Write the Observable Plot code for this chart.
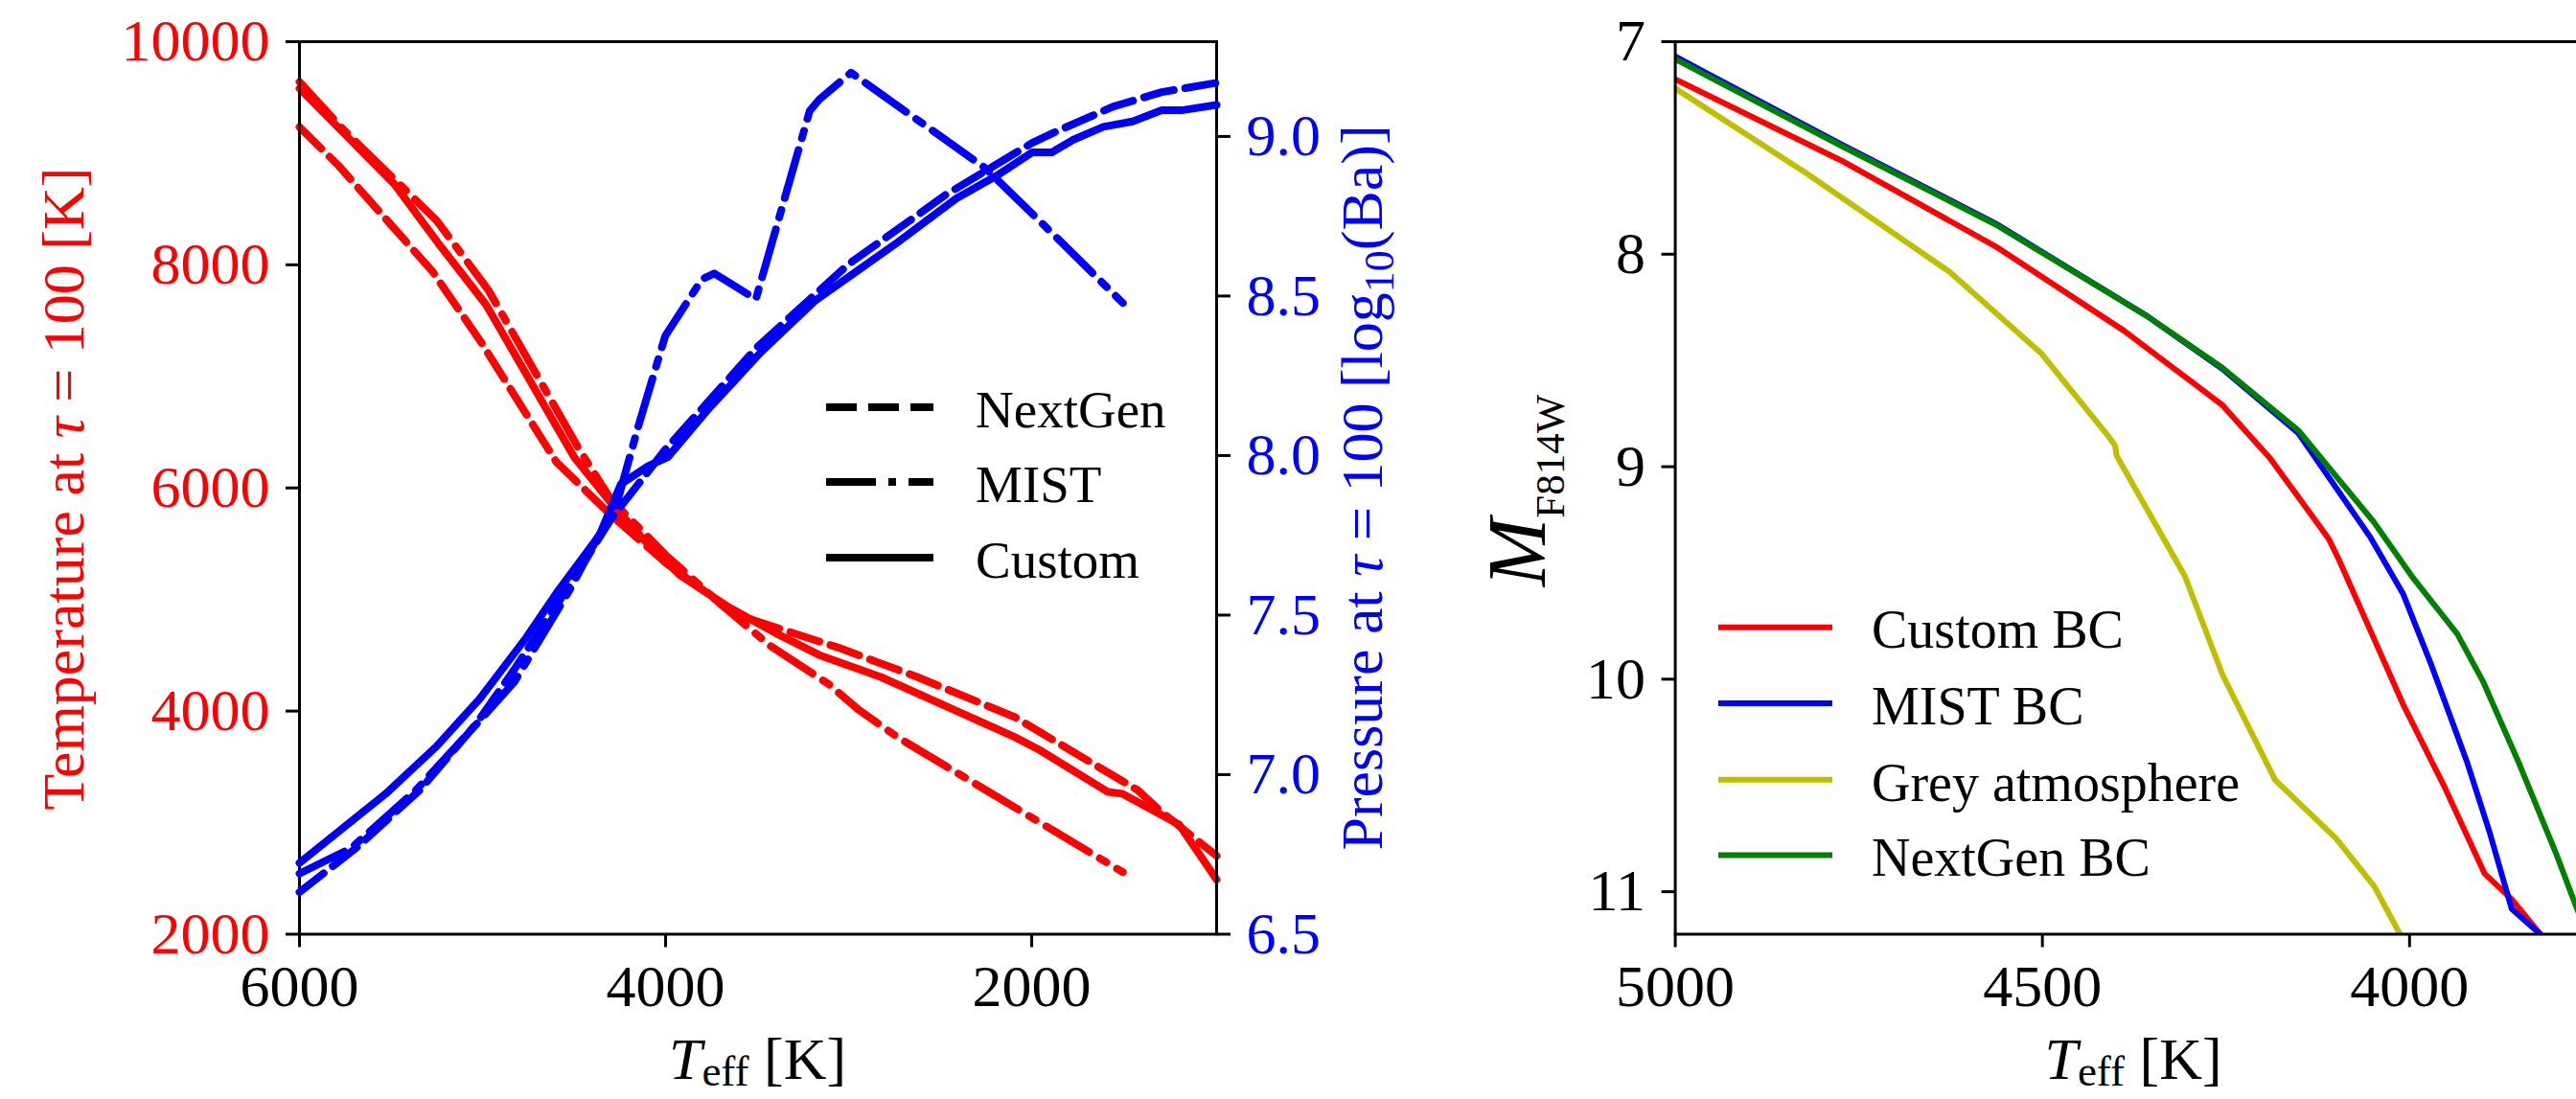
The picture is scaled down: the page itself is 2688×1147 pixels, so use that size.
<!DOCTYPE html>
<html><head><meta charset="utf-8">
<script src="https://cdn.jsdelivr.net/npm/d3@7"></script>
<script src="https://cdn.jsdelivr.net/npm/@observablehq/plot@0.6"></script>
<style>
html,body{margin:0;padding:0;background:#fff;overflow:hidden;width:2688px;height:1147px;}
#wrap{position:relative;width:2688px;height:1147px;overflow:hidden;background:#fff;}
#wrap svg{position:absolute;top:0;}
text{white-space:pre;}
</style></head><body><div id="wrap"></div>
<script>
// ---------------- LEFT PANEL DATA ----------------
// Temperature at tau = 100 [K] (left axis)
const teffCustomTemp = [6000,5483,5237,4980,4500,4300,4100,3922,3654,3400,3160,2825,2091,1957,1583,1504,1195,990];
const tempCustom     = [9581,8726,8183,7641,6277,5870,5500,5220,4930,4700,4502,4306,3766,3651,3275,3259,2983,2490];
const teffNextGenTemp = [6000,5787,5272,5004,4596,4300,4000,3614,3053,2626,2091,1824,1422,1290,990];
const tempNextGen     = [9235,8890,7937,7296,6230,5760,5330,4864,4567,4306,3945,3683,3292,3095,2703];
const teffMistTemp = [6000,5764,5251,4968,4477,4300,4000,3700,3427,3108,2945,2733,1502];
const tempMist     = [9640,9218,8398,7773,6359,5900,5400,4960,4583,4240,4011,3766,2556];
// Pressure at tau = 100 [log10(Ba)] (right axis)
const teffCustomP = [6000,5529,5251,5015,4758,4596,4360,4245,4095,3988,3775,3481,3186,2945,2733,2411,2197,1998,1890,1772,1609,1449,1290,1182,990];
const presCustom  = [6.723,6.94,7.089,7.238,7.432,7.569,7.752,7.91,7.967,7.995,8.14,8.323,8.484,8.582,8.668,8.806,8.875,8.95,8.95,8.99,9.03,9.047,9.082,9.082,9.099];
const teffNextGenP = [6000,5693,5342,5038,4827,4500,4300,4000,3500,3000,2470,2000,1876,1557,1290,990];
const presNextGen  = [6.632,6.769,6.952,7.157,7.329,7.615,7.80,8.02,8.34,8.60,8.817,8.979,9.013,9.093,9.139,9.168];
const teffMistP = [6000,5717,5366,5062,4827,4523,4384,4266,4150,4002,3801,3734,3507,3213,3160,2987,2252,1876,1502];
const presMist  = [6.69,6.77,6.95,7.14,7.29,7.58,7.73,7.85,8.09,8.375,8.553,8.571,8.49,9.08,9.116,9.20,8.90,8.69,8.478];
const leftXTicks = [6000,4000,2000];
const tempTicks = [2000,4000,6000,8000,10000];
const presTicks = [6.5,7.0,7.5,8.0,8.5,9.0];
const styleNames = ["NextGen","MIST","Custom"];

// ---------------- RIGHT PANEL DATA ----------------
const teffCustomBC = [5000,4770,4564,4389,4320,4255,4190,4131,4110,4096,4049,4009,3952,3898,3861,3822];
const magCustomBC  = [7.177,7.566,7.963,8.36,8.54,8.71,8.96,9.24,9.34,9.439,9.805,10.117,10.51,10.914,11.035,11.2];
const teffMistBC = [5000,4770,4564,4358,4255,4152,4053,4009,3970,3922,3891,3861,3822];
const magMistBC  = [7.07,7.49,7.855,8.29,8.54,8.84,9.334,9.597,9.936,10.387,10.72,11.08,11.2];
const teffGreyBC = [5000,4822,4626,4502,4409,4401,4399,4306,4255,4183,4100,4048,4013];
const magGreyBC  = [7.22,7.618,8.084,8.465,8.862,8.90,8.948,9.515,9.977,10.475,10.75,10.975,11.2];
const teffNextGenBC = [5000,4770,4564,4358,4255,4152,4049,3997,3935,3900,3852,3800,3772,3760];
const magNextGenBC  = [7.082,7.497,7.86,8.29,8.534,8.827,9.259,9.515,9.787,10.01,10.387,10.824,11.08,11.18];
const rightXTicks = [5000,4500,4000];
const magTicks = [7,8,9,10,11];
const bcNames = ["Custom BC","MIST BC","Grey atmosphere","NextGen BC"];
const bcColors = ["#ff0000","#0000ff","#bfbf00","#008000"];

// ---------------- HELPERS ----------------
const FONT = "'Liberation Serif','Times New Roman',Times,serif";
const rows = (xs, ys) => xs.map((t, i) => ({teff: t, v: ys[i]}));
const DASH = "32,12", DASHDOT = "52,13,8,13";
const wrap = document.getElementById("wrap");
const axisOpts = {tickSize: 14, tickPadding: 17, strokeWidth: 3, fontSize: 62, fontFamily: FONT, stroke: "black", label: null};

function rich(svg, {x, y, rotate = 0, fill = "black", anchor = "middle", parts}) {
  const t = d3.select(svg).append("text")
    .attr("transform", `translate(${x},${y}) rotate(${rotate})`)
    .attr("text-anchor", anchor).attr("fill", fill).attr("font-family", FONT);
  parts.forEach(p => {
    const s = t.append("tspan").text(p.t).attr("font-size", p.size);
    if (p.italic) s.attr("font-style", "italic");
    if (p.dy) s.attr("dy", p.dy);
  });
}
function fixFont(svg) {
  d3.select(svg).attr("font-family", FONT).style("font-family", FONT);
  d3.select(svg).selectAll("text").attr("font-family", FONT).style("font-family", FONT);
}

// ---------------- LEFT PANEL ----------------
const LW = 1440, H = 1147;
const leftGeom = {width: LW, height: H, marginLeft: 312, marginRight: LW - 1269, marginTop: 43, marginBottom: H - 974.5};
const leftX = {domain: [6000, 990]};
const pstyle = {fontFamily: FONT, fontSize: "62px", background: "transparent", overflow: "visible"};

const tempPlot = Plot.plot({
  ...leftGeom, style: pstyle,
  x: leftX,
  y: {domain: [2000, 10000]},
  marks: [
    Plot.line(rows(teffNextGenTemp, tempNextGen), {x: "teff", y: "v", stroke: "#ff0000", strokeWidth: 8, strokeDasharray: DASH, strokeLinejoin: "round"}),
    Plot.line(rows(teffMistTemp, tempMist), {x: "teff", y: "v", stroke: "#ff0000", strokeWidth: 8, strokeDasharray: DASHDOT, strokeLinejoin: "round"}),
    Plot.line(rows(teffCustomTemp, tempCustom), {x: "teff", y: "v", stroke: "#ff0000", strokeWidth: 8, strokeLinejoin: "round"}),
    Plot.frame({stroke: "black", strokeWidth: 3}),
    Plot.axisX({...axisOpts, ticks: leftXTicks, tickFormat: d => String(d), fill: "black"}),
    Plot.axisY({...axisOpts, ticks: tempTicks, tickFormat: d => String(d), fill: "#ff0000"})
  ]
});
tempPlot.style.left = "0px";
fixFont(tempPlot);
wrap.appendChild(tempPlot);

const presPlot = Plot.plot({
  ...leftGeom, style: pstyle,
  x: {...leftX, axis: null},
  y: {domain: [6.5, 9.297]},
  marks: [
    Plot.line(rows(teffNextGenP, presNextGen), {x: "teff", y: "v", stroke: "#0000ff", strokeWidth: 8, strokeDasharray: DASH, strokeLinejoin: "round"}),
    Plot.line(rows(teffMistP, presMist), {x: "teff", y: "v", stroke: "#0000ff", strokeWidth: 8, strokeDasharray: DASHDOT, strokeLinejoin: "round"}),
    Plot.line(rows(teffCustomP, presCustom), {x: "teff", y: "v", stroke: "#0000ff", strokeWidth: 8, strokeLinejoin: "round"}),
    Plot.axisY({...axisOpts, anchor: "right", ticks: presTicks, tickFormat: d3.format(".1f"), fill: "#0000ff"})
  ]
});
presPlot.style.left = "0px";
fixFont(presPlot);
wrap.appendChild(presPlot);

// left panel legend (line styles)
{
  const g = d3.select(presPlot).append("g").attr("text-anchor", "start");
  const dashes = [DASH, DASHDOT, null];
  const lineY = [425, 503, 582], baseY = [446, 524, 603];
  styleNames.forEach((name, i) => {
    const l = g.append("line").attr("x1", 862).attr("x2", 974).attr("y1", lineY[i]).attr("y2", lineY[i])
      .attr("stroke", "black").attr("stroke-width", 8);
    if (dashes[i]) l.attr("stroke-dasharray", dashes[i]);
    g.append("text").attr("x", 1018).attr("y", baseY[i]).attr("text-anchor", "start")
      .attr("font-family", FONT).attr("font-size", 55).attr("fill", "black").text(name);
  });
}
// axis titles left panel
rich(presPlot, {x: 87, y: 510, rotate: -90, fill: "#ff0000", parts: [
  {t: "Temperature at ", size: 62}, {t: "τ", size: 62, italic: true}, {t: " = 100 [K]", size: 62}]});
rich(presPlot, {x: 1442, y: 509, rotate: -90, fill: "#0000ff", parts: [
  {t: "Pressure at ", size: 62}, {t: "τ", size: 62, italic: true}, {t: " = 100 [log", size: 62},
  {t: "10", size: 44, dy: 12}, {t: "(Ba)]", size: 62, dy: -12}]});
rich(presPlot, {x: 790.5, y: 1126, fill: "black", parts: [
  {t: "T", size: 62, italic: true}, {t: "eff", size: 45, dy: 7}, {t: " [K]", size: 62, dy: -7}]});

// ---------------- RIGHT PANEL ----------------
const RX = 1450, RW = 1320;
const bcSeries = [rows(teffCustomBC, magCustomBC), rows(teffMistBC, magMistBC), rows(teffGreyBC, magGreyBC), rows(teffNextGenBC, magNextGenBC)];
const magPlot = Plot.plot({
  width: RW, height: H, marginLeft: 1747.6 - RX, marginRight: RW - (2704.6 - RX), marginTop: 43, marginBottom: H - 974.5,
  style: pstyle,
  x: {domain: [5000, 3751]},
  y: {domain: [7, 11.2], reverse: true},
  marks: [
    ...bcSeries.map((d, i) => Plot.line(d, {x: "teff", y: "v", stroke: bcColors[i], strokeWidth: 6, strokeLinejoin: "round", clip: true})),
    Plot.frame({stroke: "black", strokeWidth: 3}),
    Plot.axisX({...axisOpts, ticks: rightXTicks, tickFormat: d => String(d), fill: "black"}),
    Plot.axisY({...axisOpts, ticks: magTicks, tickFormat: d => String(d), fill: "black"})
  ]
});
magPlot.style.left = RX + "px";
fixFont(magPlot);
wrap.appendChild(magPlot);
{
  const g = d3.select(magPlot).append("g").attr("text-anchor", "start");
  const lineY = [654.7, 733.9, 813.8, 892.6], baseY = [675.6, 755.6, 835.5, 913.5];
  bcNames.forEach((name, i) => {
    g.append("line").attr("x1", 1793 - RX).attr("x2", 1912 - RX).attr("y1", lineY[i]).attr("y2", lineY[i])
      .attr("stroke", bcColors[i]).attr("stroke-width", 6);
    g.append("text").attr("x", 1953 - RX).attr("y", baseY[i]).attr("text-anchor", "start")
      .attr("font-family", FONT).attr("font-size", 56).attr("fill", "black").text(name);
  });
}
rich(magPlot, {x: 1612 - RX, y: 512, rotate: -90, fill: "black", parts: [
  {t: "M", size: 86, italic: true}, {t: "F814W", size: 43, dy: 20}]});
rich(magPlot, {x: 2226 - RX, y: 1126, fill: "black", parts: [
  {t: "T", size: 62, italic: true}, {t: "eff", size: 45, dy: 7}, {t: " [K]", size: 62, dy: -7}]});
</script></body></html>
